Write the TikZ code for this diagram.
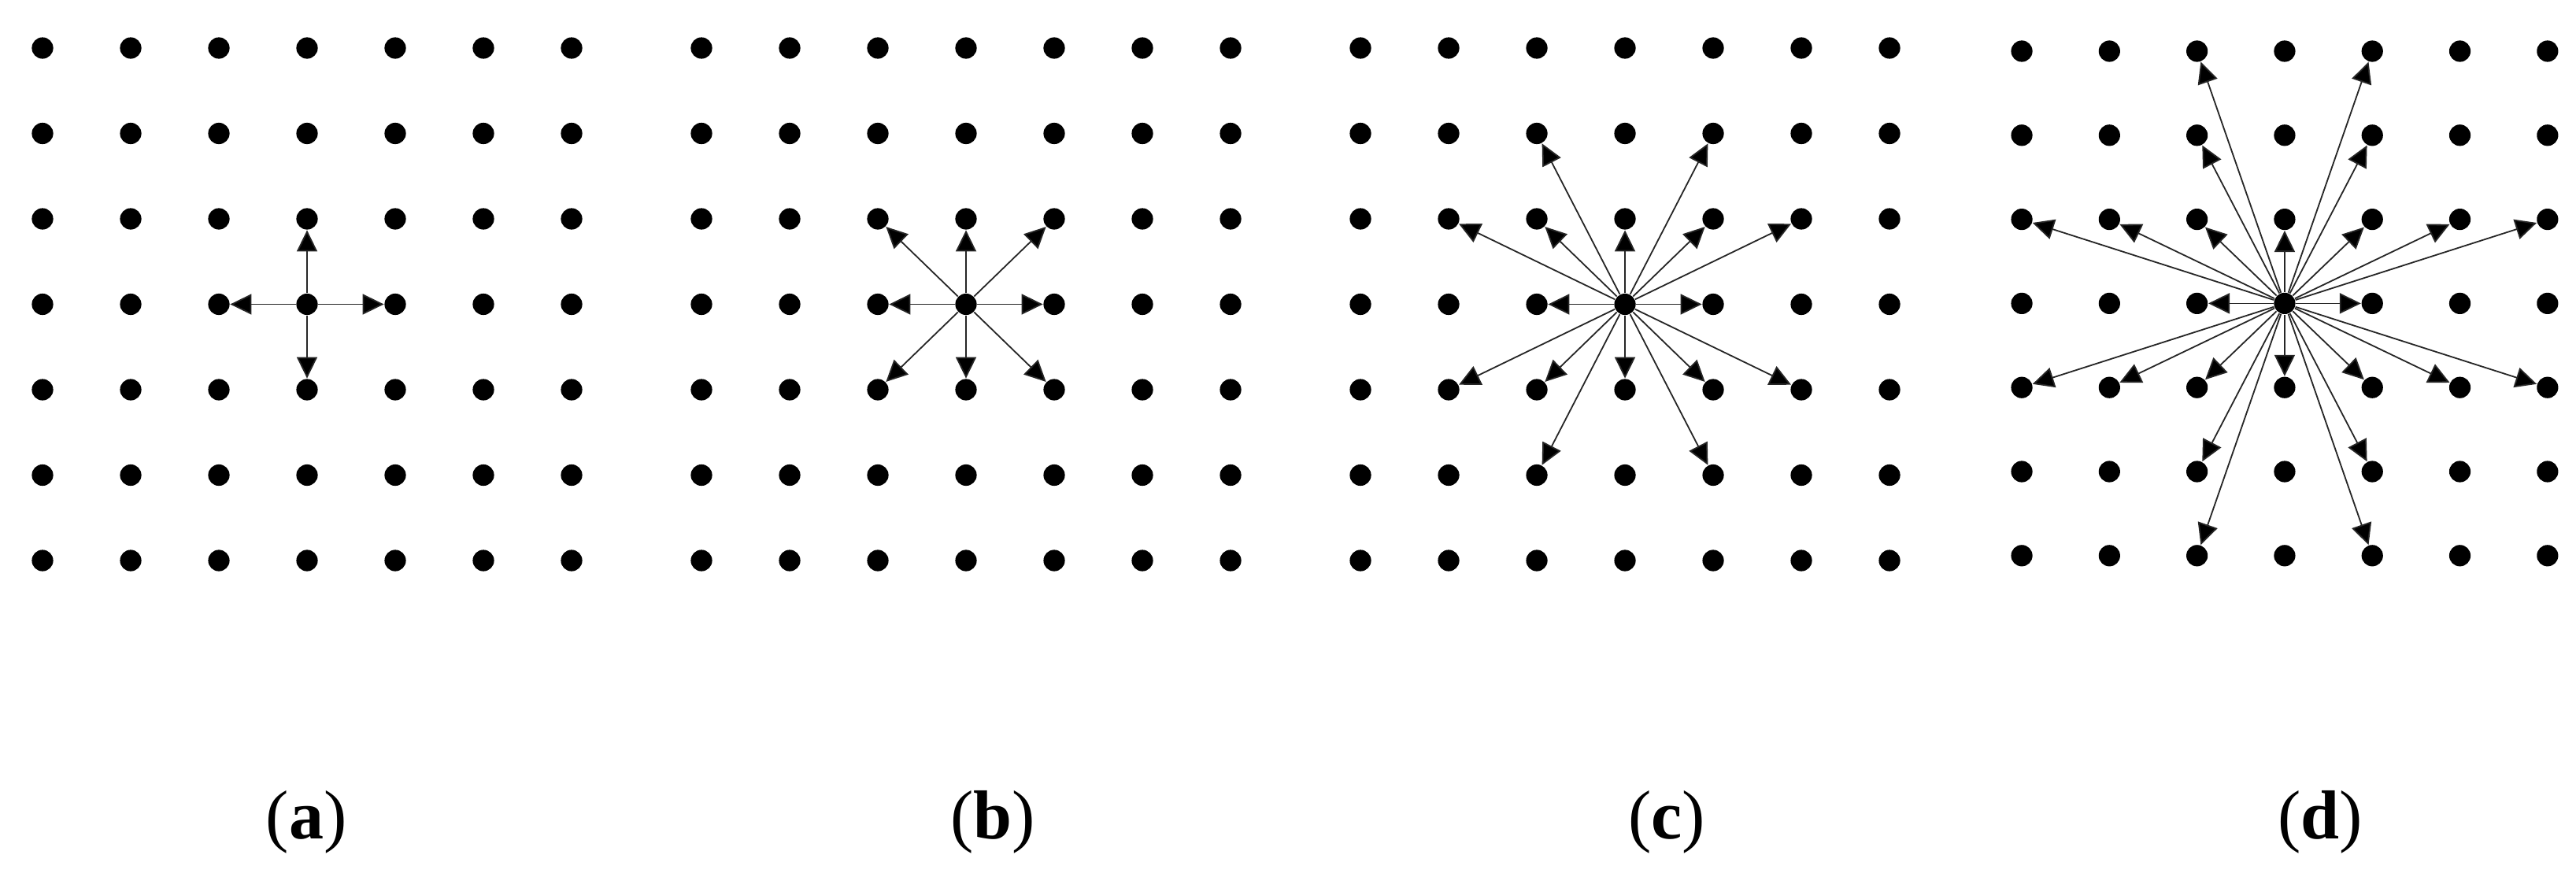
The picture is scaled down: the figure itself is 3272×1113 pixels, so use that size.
\documentclass[tikz,border=0pt]{standalone}
\usepackage{fontspec}
\setmainfont{Liberation Serif}
\usetikzlibrary{arrows.meta}
\begin{document}
\begin{tikzpicture}[x=0.25pt,y=-0.25pt,
  dot/.style={circle,fill=black,draw=none,inner sep=0pt,minimum size=6.8pt},
  ray/.style={draw=black!85,line width=0.45pt,-{Triangle[length=6.75pt,width=6.5pt,fill=black]}},
  lab/.style={font=\fontsize{22}{26}\selectfont,anchor=base,inner sep=0pt}]
\useasboundingbox (0,0) rectangle (3272,1113);
% grids
\foreach \i in {0,...,6}{
  \foreach \j in {0,...,6}{
    \node[dot] (a-\i-\j) at ({54+112*\i},{61+108.5*\j}) {};
    \node[dot] (b-\i-\j) at ({891+112*\i},{61+108.5*\j}) {};
    \node[dot] (c-\i-\j) at ({1728+112*\i},{61+108.5*\j}) {};
    \node[dot] (d-\i-\j) at ({2568+111.3*\i},{65+106.8*\j}) {};
  }
}
% (a)
\foreach \u/\v in {1/0,-1/0,0/1,0/-1}{
  \pgfmathtruncatemacro\ti{3+\u}\pgfmathtruncatemacro\tj{3+\v}
  \draw[ray] (a-3-3) -- (a-\ti-\tj);
}
% (b)
\foreach \u/\v in {1/0,-1/0,0/1,0/-1,1/1,1/-1,-1/1,-1/-1}{
  \pgfmathtruncatemacro\ti{3+\u}\pgfmathtruncatemacro\tj{3+\v}
  \draw[ray] (b-3-3) -- (b-\ti-\tj);
}
% (c)
\foreach \u/\v in {1/0,-1/0,0/1,0/-1,1/1,1/-1,-1/1,-1/-1,
                   1/2,-1/2,1/-2,-1/-2,2/1,-2/1,2/-1,-2/-1}{
  \pgfmathtruncatemacro\ti{3+\u}\pgfmathtruncatemacro\tj{3+\v}
  \draw[ray] (c-3-3) -- (c-\ti-\tj);
}
% (d)
\foreach \u/\v in {1/0,-1/0,0/1,0/-1,1/1,1/-1,-1/1,-1/-1,
                   1/2,-1/2,1/-2,-1/-2,2/1,-2/1,2/-1,-2/-1,
                   1/3,-1/3,1/-3,-1/-3,3/1,-3/1,3/-1,-3/-1}{
  \pgfmathtruncatemacro\ti{3+\u}\pgfmathtruncatemacro\tj{3+\v}
  \draw[ray] (d-3-3) -- (d-\ti-\tj);
}
% labels
\node[lab] (la) at (389,1065) {(\textbf{a})};
\node[lab] (lb) at (1261,1065) {(\textbf{b})};
\node[lab] (lc) at (2117,1065) {(\textbf{c})};
\node[lab] (ld) at (2947,1065) {(\textbf{d})};
\end{tikzpicture}
\end{document}
